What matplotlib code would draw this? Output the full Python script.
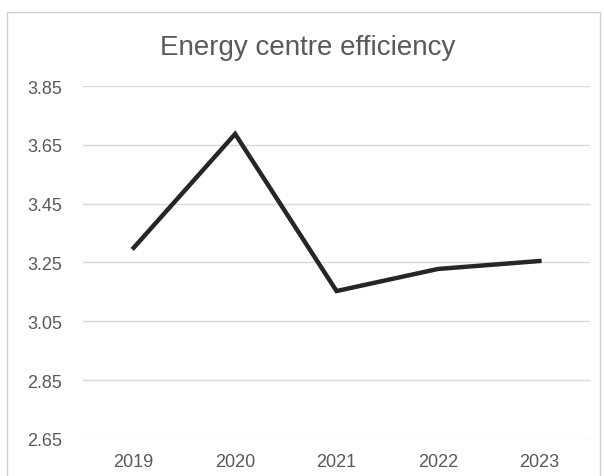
import matplotlib.pyplot as plt
from matplotlib.patches import Rectangle

years = ["2019", "2020", "2021", "2022", "2023"]
efficiency = [3.30, 3.687, 3.153, 3.228, 3.255]
yticks = [2.65, 2.85, 3.05, 3.25, 3.45, 3.65, 3.85]

plt.rcParams["font.family"] = ["Liberation Sans", "DejaVu Sans"]

fig = plt.figure(figsize=(6.04, 4.77), dpi=100)
ax = fig.add_axes([0.1374, 0.0776, 0.8396, 0.74])

x = range(len(years))
ax.plot(x, efficiency, color="#262626", linewidth=3.2, solid_joinstyle="miter")

ax.set_xlim(-0.5, len(years) - 0.5)
ax.set_ylim(2.65, 3.85)
ax.set_yticks(yticks)
ax.set_yticklabels([f"{v:.2f}" for v in yticks])
ax.set_xticks(list(x))
ax.set_xticklabels(years)
ax.grid(axis="y", color="#d9d9d9", linewidth=1)
ax.set_axisbelow(True)
ax.spines[:].set_visible(False)
ax.tick_params(length=0, labelsize=13, colors="#595959")
ax.tick_params(axis="x", pad=10)
ax.tick_params(axis="y", pad=15)

fig.text(0.509, 1 - 55 / 477, "Energy centre efficiency", ha="center",
         va="baseline", fontsize=20, color="#595959")

fig.patches.append(Rectangle((7 / 604, -0.01), 593 / 604, 1 - 13 / 477 + 0.01,
                             transform=fig.transFigure, fill=False,
                             edgecolor="#d0d0d0", linewidth=1))

fig.savefig("out.png", dpi=100)
